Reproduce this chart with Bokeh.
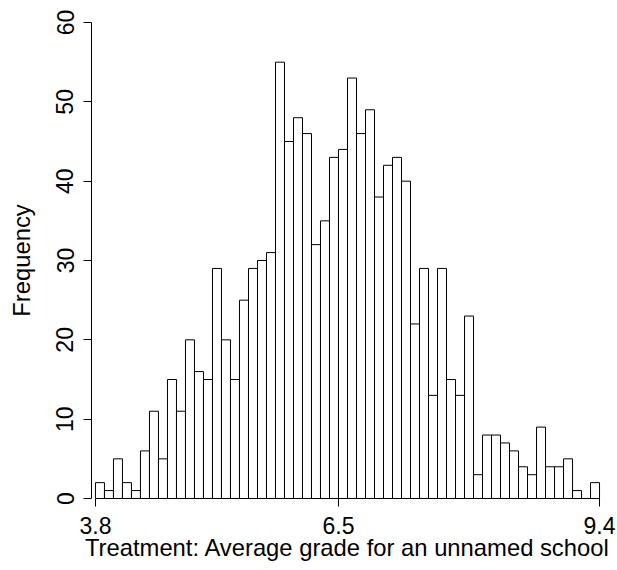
from bokeh.plotting import figure
from bokeh.models import FixedTicker
from bokeh.embed import file_html
from bokeh.resources import INLINE
import numpy as np

# Histogram data: bins of width 0.1 from 3.8 to 9.4
bin_start = 3.8
bin_width = 0.1
counts = [2, 1, 5, 2, 1, 6, 11, 5, 15, 11, 20, 16, 15, 29, 20, 15, 25, 29, 30, 31,
          55, 45, 48, 46, 32, 35, 43, 44, 53, 46, 49, 38, 42, 43, 40, 22, 29, 13, 29, 15,
          13, 23, 3, 8, 8, 7, 6, 4, 3, 9, 4, 4, 5, 1, 0, 2]
x_ticks = [3.8, 6.5, 9.4]
x_tick_labels = ["3.8", "6.5", "9.4"]
y_ticks = [0, 10, 20, 30, 40, 50, 60]

n = len(counts)
lefts = np.round(bin_start + bin_width * np.arange(n), 2)
rights = np.round(lefts + bin_width, 2)

FONT = "Liberation Sans"
pad = 0.044

p = figure(width=617, height=570, output_backend="svg", toolbar_location=None,
           x_range=(x_ticks[0] - pad, x_ticks[-1] + pad), y_range=(0, 60),
           min_border_left=91, min_border_top=22, min_border_right=14, min_border_bottom=72)
p.outline_line_color = None
p.grid.visible = False
p.background_fill_color = "white"
p.border_fill_color = "white"

p.quad(left=lefts, right=rights, bottom=0, top=counts,
       fill_color="white", line_color="black", line_width=1)

for ax in (p.xaxis[0], p.yaxis[0]):
    ax.minor_tick_line_color = None
    ax.major_tick_in = 0
    ax.major_tick_out = 8
    ax.axis_line_color = "black"
    ax.major_tick_line_color = "black"
    ax.major_label_text_font = FONT
    ax.major_label_text_font_size = "23px"
    ax.major_label_text_color = "black"
    ax.axis_label_text_font = FONT
    ax.axis_label_text_font_size = "23.8px"
    ax.axis_label_text_font_style = "normal"
    ax.axis_label_text_color = "black"

p.xaxis.ticker = FixedTicker(ticks=x_ticks)
p.xaxis.major_label_overrides = {t: l for t, l in zip(x_ticks, x_tick_labels)}
p.xaxis.bounds = (x_ticks[0], x_ticks[-1])
p.xaxis.axis_label = "Treatment: Average grade for an unnamed school"
p.xaxis.major_label_standoff = 10
p.xaxis.axis_label_standoff = -3

p.yaxis.ticker = FixedTicker(ticks=y_ticks)
p.yaxis.bounds = (0, 60)
p.yaxis.major_label_orientation = "vertical"
p.yaxis.axis_label = "Frequency"
p.yaxis.major_label_standoff = 10
p.yaxis.axis_label_standoff = 19

open("out.html", "w").write(file_html(p, INLINE))
